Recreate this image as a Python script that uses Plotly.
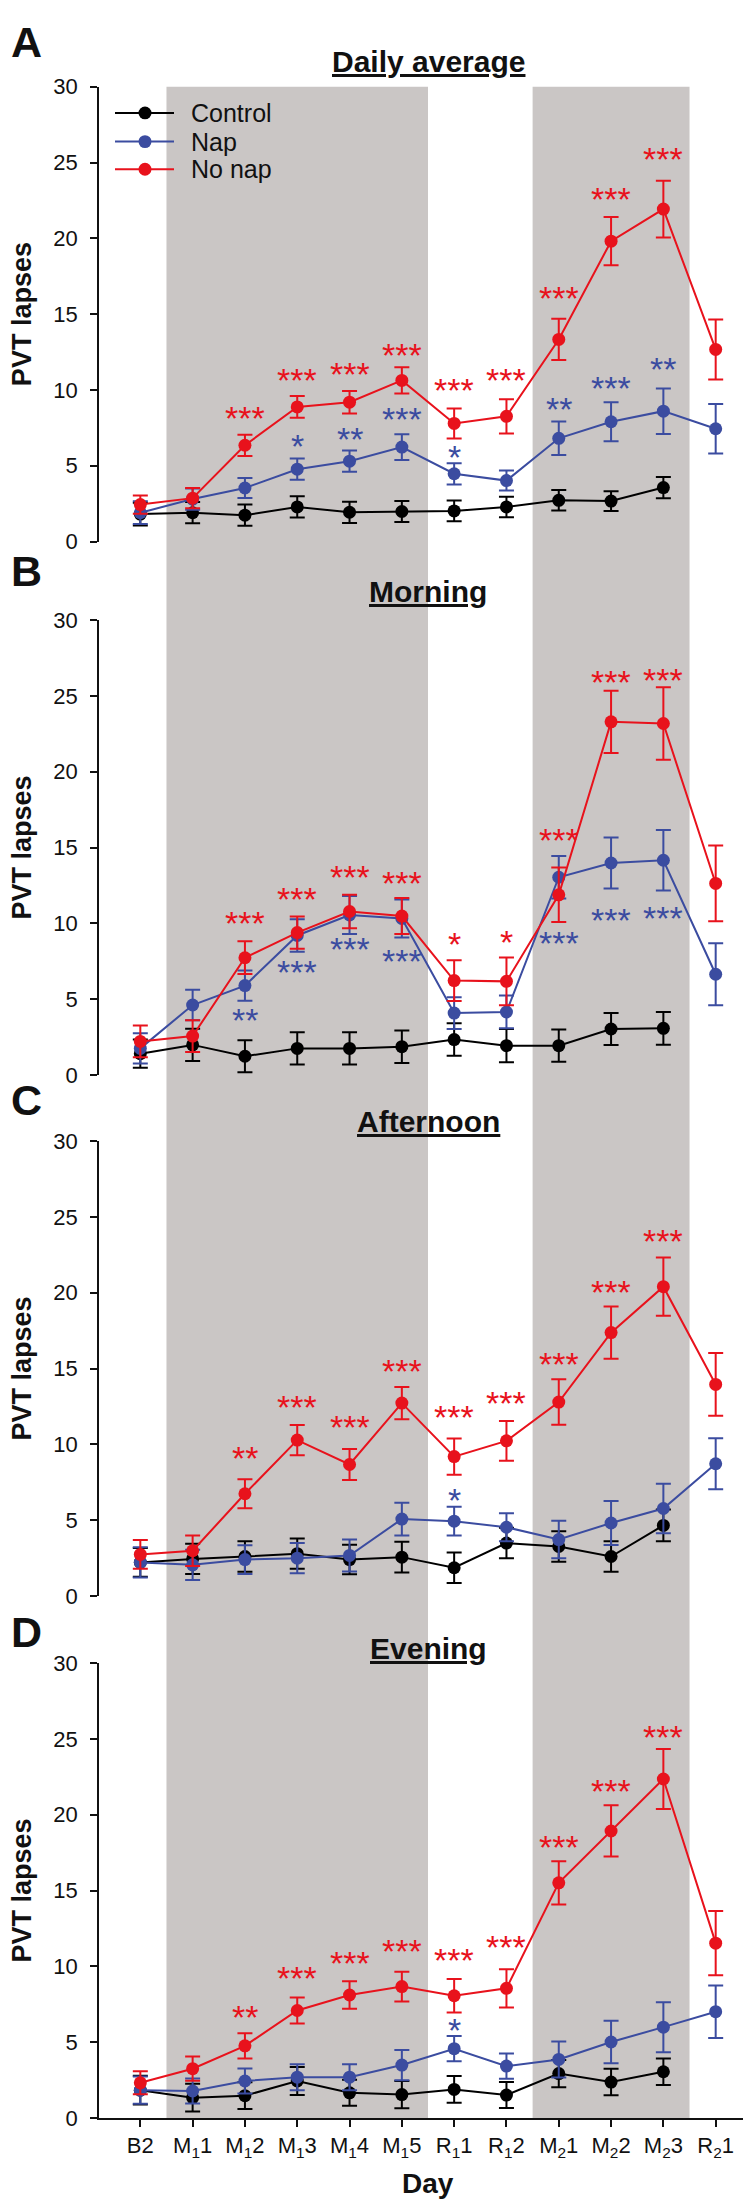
import plotly.graph_objects as go

# ── data ─────────────────────────────────────────────────────────────────────
days = ["B2", "M<sub>1</sub>1", "M<sub>1</sub>2", "M<sub>1</sub>3", "M<sub>1</sub>4",
        "M<sub>1</sub>5", "R<sub>1</sub>1", "R<sub>1</sub>2", "M<sub>2</sub>1",
        "M<sub>2</sub>2", "M<sub>2</sub>3", "R<sub>2</sub>1"]
panel_titles = ["Daily average", "Morning", "Afternoon", "Evening"]
panel_letters = ["A", "B", "C", "D"]
groups = ["Control", "Nap", "No nap"]

# A: daily average
ctrl_a = [1.81, 1.90, 1.74, 2.28, 1.93, 1.98, 2.02, 2.28, 2.72, 2.67, 3.56, None]
ctrl_a_err = [0.75, 0.70, 0.70, 0.70, 0.70, 0.70, 0.68, 0.68, 0.68, 0.65, 0.70, None]
nap_a = [1.90, 2.80, 3.53, 4.77, 5.30, 6.23, 4.47, 4.02, 6.81, 7.90, 8.60, 7.44]
nap_a_err = [0.75, 0.70, 0.66, 0.70, 0.70, 0.85, 0.70, 0.66, 1.10, 1.28, 1.50, 1.63]
nonap_a = [2.44, 2.86, 6.35, 8.88, 9.19, 10.63, 7.79, 8.26, 13.33, 19.81, 21.93, 12.67]
nonap_a_err = [0.60, 0.67, 0.70, 0.72, 0.74, 0.86, 0.99, 1.13, 1.36, 1.59, 1.87, 1.98]
nap_a_sig = ["", "", "", "*", "**", "***", "*", "", "**", "***", "**", ""]
nap_a_sig_y = [None, None, None, 6.74, 7.21, 8.56, 6.0, None, 9.19, 10.58, 11.81, None]
nonap_a_sig = ["", "", "***", "***", "***", "***", "***", "***", "***", "***", "***", ""]
nonap_a_sig_y = [None, None, 8.6, 11.09, 11.51, 12.74, 10.42, 11.09, 16.51, 23.02, 25.7, None]

# B: morning
ctrl_b = [1.40, 1.98, 1.23, 1.75, 1.75, 1.86, 2.33, 1.93, 1.93, 3.03, 3.07, None]
ctrl_b_err = [0.93, 1.07, 1.06, 1.07, 1.07, 1.07, 1.07, 1.10, 1.07, 1.05, 1.08, None]
nap_b = [1.75, 4.61, 5.89, 9.20, 10.55, 10.32, 4.08, 4.15, 13.04, 13.98, 14.16, 6.64]
nap_b_err = [1.00, 1.00, 1.00, 1.07, 1.25, 1.25, 1.05, 1.08, 1.40, 1.68, 2.00, 2.05]
nonap_b = [2.21, 2.56, 7.73, 9.39, 10.78, 10.48, 6.22, 6.17, 11.88, 23.29, 23.18, 12.63]
nonap_b_err = [1.05, 1.05, 1.08, 1.06, 1.10, 1.19, 1.34, 1.57, 1.80, 2.05, 2.39, 2.50]
nap_b_sig = ["", "", "**", "***", "***", "***", "", "", "***", "***", "***", ""]
nap_b_sig_y = [None, None, 4.08, 7.22, 8.73, 7.97, None, None, 9.13, 10.65, 10.83, None]
nonap_b_sig = ["", "", "***", "***", "***", "***", "*", "*", "***", "***", "***", ""]
nonap_b_sig_y = [None, None, 10.48, 12.07, 13.51, 13.11, 9.08, 9.20, 15.96, 26.37, 26.49, None]

# C: afternoon
ctrl_c = [2.21, 2.44, 2.60, 2.79, 2.40, 2.56, 1.86, 3.49, 3.26, 2.60, 4.65, None]
ctrl_c_err = [0.95, 1.00, 1.00, 1.00, 0.97, 1.02, 1.00, 1.00, 1.00, 1.00, 1.05, None]
nap_c = [2.21, 2.05, 2.40, 2.49, 2.67, 5.07, 4.93, 4.53, 3.72, 4.81, 5.77, 8.72]
nap_c_err = [1.00, 1.00, 0.95, 1.00, 1.05, 1.08, 0.95, 0.93, 1.24, 1.45, 1.63, 1.69]
nonap_c = [2.74, 2.98, 6.74, 10.28, 8.67, 12.72, 9.19, 10.23, 12.79, 17.37, 20.40, 13.95]
nonap_c_err = [0.95, 1.00, 0.95, 1.00, 1.02, 1.07, 1.19, 1.31, 1.50, 1.72, 1.92, 2.07]
nap_c_sig = ["", "", "", "", "", "", "*", "", "", "", "", ""]
nap_c_sig_y = [None, None, None, None, None, None, 6.79, None, None, None, None, None]
nonap_c_sig = ["", "", "**", "***", "***", "***", "***", "***", "***", "***", "***", ""]
nonap_c_sig_y = [None, None, 9.53, 12.91, 11.58, 15.30, 12.26, 13.19, 15.74, 20.53, 23.84, None]

# D: evening
ctrl_d = [1.83, 1.34, 1.47, 2.44, 1.66, 1.54, 1.88, 1.51, 2.93, 2.37, 3.05, None]
ctrl_d_err = [0.95, 0.92, 0.88, 0.92, 0.86, 0.90, 0.88, 0.86, 0.90, 0.88, 0.88, None]
nap_d = [1.83, 1.78, 2.44, 2.69, 2.69, 3.49, 4.57, 3.42, 3.86, 5.01, 5.99, 7.01]
nap_d_err = [0.90, 0.83, 0.82, 0.86, 0.86, 1.00, 0.83, 0.84, 1.19, 1.40, 1.65, 1.73]
nonap_d = [2.32, 3.25, 4.76, 7.09, 8.11, 8.67, 8.06, 8.55, 15.51, 18.93, 22.36, 11.53]
nonap_d_err = [0.76, 0.80, 0.83, 0.86, 0.90, 0.98, 1.10, 1.26, 1.43, 1.69, 1.98, 2.12]
nap_d_sig = ["", "", "", "", "", "", "*", "", "", "", "", ""]
nap_d_sig_y = [None, None, None, None, None, None, 6.23, None, None, None, None, None]
nonap_d_sig = ["", "", "**", "***", "***", "***", "***", "***", "***", "***", "***", ""]
nonap_d_sig_y = [None, None, 7.13, 9.65, 10.68, 11.43, 10.87, 11.73, 18.32, 21.99, 25.58, None]

yticks = [0, 5, 10, 15, 20, 25, 30]

# ── styling / layout helpers ──────────────────────────────────────────────────
W, H = 751, 2207
ML, MR = 91, 2
PW = W - ML - MR
FONT = "Liberation Sans, Arial, sans-serif"
COLORS = ["#000000", "#3B4CA0", "#E8121C"]
GRAY = "#CAC6C5"

def px_x(p):
    return (p - ML) / PW

def px_y(p):
    return 1 - p / H

# panel plot areas in pixels (top, bottom)
panel_px = [(67.5, 527.5), (607, 1067), (1134, 1594), (1662, 2122)]
title_px = [42, 578, 1114, 1647]
letter_px = [22.5, 557, 1092, 1630]

panels = [
    ([ctrl_a, nap_a, nonap_a], [ctrl_a_err, nap_a_err, nonap_a_err],
     [(nap_a_sig, nap_a_sig_y), (nonap_a_sig, nonap_a_sig_y)]),
    ([ctrl_b, nap_b, nonap_b], [ctrl_b_err, nap_b_err, nonap_b_err],
     [(nap_b_sig, nap_b_sig_y), (nonap_b_sig, nonap_b_sig_y)]),
    ([ctrl_c, nap_c, nonap_c], [ctrl_c_err, nap_c_err, nonap_c_err],
     [(nap_c_sig, nap_c_sig_y), (nonap_c_sig, nonap_c_sig_y)]),
    ([ctrl_d, nap_d, nonap_d], [ctrl_d_err, nap_d_err, nonap_d_err],
     [(nap_d_sig, nap_d_sig_y), (nonap_d_sig, nonap_d_sig_y)]),
]

fig = go.Figure()
annotations = []
shapes = []
layout_axes = {}
STAR_FS = 34

for i, (series, errs, sigs) in enumerate(panels):
    n = i + 1
    xa, ya = f"x{n}", f"y{n}"
    for g, (vals, err) in enumerate(zip(series, errs)):
        fig.add_trace(go.Scatter(
            x=days, y=vals, xaxis=xa, yaxis=ya, mode="lines+markers",
            name=groups[g], showlegend=False,
            line=dict(color=COLORS[g], width=2),
            marker=dict(color=COLORS[g], size=13),
            error_y=dict(type="data", array=err, color=COLORS[g],
                         thickness=2, width=7.5),
        ))
    # significance stars (nap = blue, no nap = red)
    for (labels, ys), col in zip(sigs, COLORS[1:]):
        for d, lab, yv in zip(days, labels, ys):
            if lab and yv is not None:
                annotations.append(dict(
                    x=d, y=yv, xref=xa, yref=ya, text=lab, showarrow=False,
                    font=dict(family=FONT, size=STAR_FS, color=col),
                    xanchor="center", yanchor="middle", yshift=-0.2 * STAR_FS))

    top, bot = panel_px[i]
    layout_axes[f"xaxis{n}"] = dict(
        domain=[0, 1], anchor=ya, type="category", categoryarray=days,
        range=[-0.79, 11.79], showgrid=False, zeroline=False,
        showline=(n == 4), linecolor="#111", linewidth=1.5,
        ticks="outside" if n == 4 else "", ticklen=7, tickwidth=1.5,
        tickcolor="#111", showticklabels=(n == 4),
        tickfont=dict(family=FONT, size=22, color="#111"),
    )
    layout_axes[f"yaxis{n}"] = dict(
        domain=[px_y(bot), px_y(top)], anchor=xa, range=[0, 30],
        tickvals=yticks, showgrid=False, zeroline=False, showline=True,
        linecolor="#111", linewidth=1.5, ticks="outside", ticklen=7,
        tickwidth=1.5, tickcolor="#111", ticklabelstandoff=8,
        tickfont=dict(family=FONT, size=22, color="#111"),
    )

    # title, panel letter, y-axis title
    annotations.append(dict(
        x=0.5, y=px_y(title_px[i]), xref="paper", yref="paper",
        text=panel_titles[i], showarrow=False, xanchor="center", yanchor="middle",
        font=dict(family=FONT, size=30, color="#111", weight="bold",
                  lineposition="under")))
    annotations.append(dict(
        x=px_x(1), y=px_y(letter_px[i]), xref="paper", yref="paper",
        text=panel_letters[i], showarrow=False, xanchor="left", yanchor="middle",
        font=dict(family=FONT, size=43, color="#111", weight="bold")))
    annotations.append(dict(
        x=px_x(14), y=px_y((top + bot) / 2), xref="paper", yref="paper",
        text="PVT lapses", showarrow=False, textangle=-90,
        xanchor="center", yanchor="middle",
        font=dict(family=FONT, size=27, color="#111", weight="bold")))

annotations.append(dict(
    x=px_x(420), y=px_y(2188), xref="paper", yref="paper", text="Day",
    showarrow=False, xanchor="center", yanchor="middle",
    font=dict(family=FONT, size=28, color="#111", weight="bold")))

# shaded mission blocks, spanning all panels
for x0, x1 in [(0.5, 5.5), (7.5, 10.5)]:
    shapes.append(dict(type="rect", xref="x4", yref="paper", x0=x0, x1=x1,
                       y0=px_y(panel_px[3][1]), y1=px_y(panel_px[0][0]),
                       fillcolor=GRAY, line=dict(width=0), layer="below"))

# hand-drawn legend in panel A
legend_rows = [94, 123, 151]
for g, row in enumerate(legend_rows):
    shapes.append(dict(type="line", xref="paper", yref="paper",
                       x0=px_x(107), x1=px_x(166), y0=px_y(row), y1=px_y(row),
                       line=dict(color=COLORS[g], width=2)))
    shapes.append(dict(type="circle", xref="paper", yref="paper",
                       x0=px_x(137 - 6.5), x1=px_x(137 + 6.5),
                       y0=px_y(row + 6.5), y1=px_y(row - 6.5),
                       fillcolor=COLORS[g], line=dict(width=0)))
    annotations.append(dict(
        x=px_x(181), y=px_y(row), xref="paper", yref="paper", text=groups[g],
        showarrow=False, xanchor="left", yanchor="middle",
        font=dict(family=FONT, size=25, color="#111")))

fig.update_layout(
    width=W, height=H, margin=dict(l=ML, r=MR, t=0, b=0, pad=0),
    paper_bgcolor="white", plot_bgcolor="rgba(0,0,0,0)",
    showlegend=False, annotations=annotations, shapes=shapes,
    font=dict(family=FONT, color="#111"),
    **layout_axes,
)

fig.write_html("out.html")
